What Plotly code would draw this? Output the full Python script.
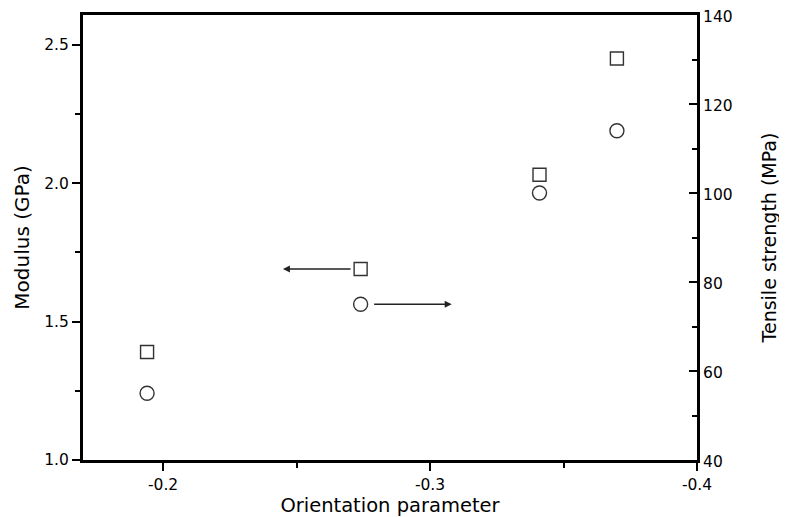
import plotly.graph_objects as go

orientation = [-0.194, -0.274, -0.341, -0.370]
modulus_gpa = [1.39, 1.69, 2.03, 2.45]
tensile_mpa = [55, 75, 100, 114]

x_ticks = [-0.2, -0.3, -0.4]
x_ticklabels = ["-0.2", "-0.3", "-0.4"]
y_ticks = [1.0, 1.5, 2.0, 2.5]
y_ticklabels = ["1.0", "1.5", "2.0", "2.5"]
y2_ticks = [40, 60, 80, 100, 120, 140]

font_family = "DejaVu Sans, Liberation Sans, Arial, sans-serif"
tick_font = dict(family=font_family, size=15.5, color="black")

fig = go.Figure()
fig.add_trace(go.Scatter(
    x=orientation, y=modulus_gpa, mode="markers", name="Modulus",
    marker=dict(symbol="square-open", size=13, color="#333333", line=dict(width=1.4)),
    yaxis="y",
))
fig.add_trace(go.Scatter(
    x=orientation, y=tensile_mpa, mode="markers", name="Tensile strength",
    marker=dict(symbol="circle-open", size=14, color="#333333", line=dict(width=1.4)),
    yaxis="y2",
))

# arrows indicating which axis each series belongs to
fig.add_annotation(x=-0.2449, y=modulus_gpa[1], ax=-0.2708, ay=modulus_gpa[1],
                   xref="x", yref="y", axref="x", ayref="y", text="",
                   showarrow=True, arrowhead=2, arrowsize=1, arrowwidth=1.4, arrowcolor="#222222")
fig.add_annotation(x=-0.3081, y=tensile_mpa[1], ax=-0.2785, ay=tensile_mpa[1],
                   xref="x", yref="y2", axref="x", ayref="y2", text="",
                   showarrow=True, arrowhead=2, arrowsize=1, arrowwidth=1.4, arrowcolor="#222222")

axis_common = dict(
    showgrid=False, zeroline=False, showline=True, linecolor="black", linewidth=3,
    ticklen=8, tickwidth=1.5, tickcolor="black", automargin=False,
    tickfont=tick_font, ticklabeloverflow="allow",
)

# page body has an 8px default margin, so the figure is sized to fit the window
fig.update_layout(
    width=779, height=509,
    margin=dict(l=75, r=90, t=7, b=57),
    paper_bgcolor="white", plot_bgcolor="white",
    showlegend=False,
    font=dict(family=font_family, color="black"),
    xaxis=dict(
        **axis_common, ticks="outside",
        range=[-0.17, -0.4], tickvals=x_ticks, ticktext=x_ticklabels,
        mirror=True,
        minor=dict(dtick=0.05, tick0=0, ticklen=5, tickwidth=1.5, tickcolor="black", ticks="outside"),
        title=dict(text="Orientation parameter", font=dict(family=font_family, size=19.5), standoff=6),
    ),
    yaxis=dict(
        **axis_common, ticks="outside",
        range=[1.0, 2.607], tickvals=y_ticks, ticktext=y_ticklabels,
        minor=dict(dtick=0.25, tick0=0, ticklen=5, tickwidth=1.5, tickcolor="black", ticks="outside"),
        title=dict(text="Modulus (GPa)", font=dict(family=font_family, size=20), standoff=10),
    ),
    yaxis2=dict(
        **axis_common, ticks="inside", ticklabelshift=2,
        overlaying="y", side="right",
        range=[40, 140], tickvals=y2_ticks,
        minor=dict(dtick=10, tick0=0, ticklen=5, tickwidth=1.5, tickcolor="black", ticks="inside"),
        title=dict(text="Tensile strength (MPa)", font=dict(family=font_family, size=19), standoff=32),
    ),
)

fig.write_html("out.html")
